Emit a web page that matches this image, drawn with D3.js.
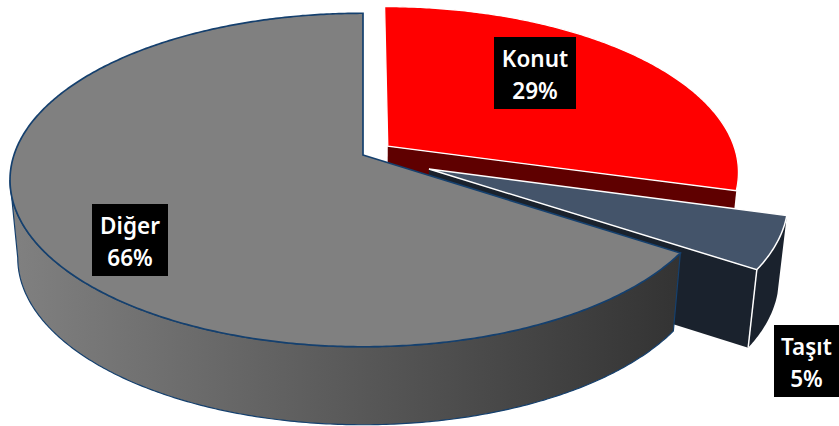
<!DOCTYPE html>
<html>
<head>
<meta charset="utf-8">
<script src="https://cdn.jsdelivr.net/npm/d3@7"></script>
<style>
html, body { margin: 0; padding: 0; background: #fff; overflow: hidden; }
svg { display: block; }
text { font-family: "Noto Sans", "Open Sans", sans-serif; font-size: 22.5px; font-weight: 600; fill: #fff; }
</style>
</head>
<body>
<div id="container"></div>
<script>
// values
var categories = ["Konut", "Taşıt", "Diğer"];
var shares = [29.3, 5.0, 65.7];

var colTop = ["#ff0000", "#44546a", "#808080"];
var colEdge = ["#ffffff", "#ffffff", "#15406e"];
var colFace = ["#5f0000", "#1a222d", "#333333"];
var explode = [0.09, 0.205, 0];
var labelBox = [[494, 37, 82], [774, 325, 65], [92, 204, 76]];

var width = 839, height = 426;
var cx = 363, cy = 155, rx = 349, ry = 163, persp = 0.15;
var depth = 78, shrink = 0.978;
var silhouette = Math.PI + Math.acos(persp);  // left tangent of the ellipse

var svg = d3.select("#container").append("svg")
            .attr("width", width).attr("height", height);

var grad = svg.append("defs").append("linearGradient")
              .attr("id", "wall").attr("gradientUnits", "userSpaceOnUse")
              .attr("x1", 15).attr("x2", 680).attr("y1", 0).attr("y2", 0);
grad.append("stop").attr("offset", 0).attr("stop-color", "#808080");
grad.append("stop").attr("offset", 1).attr("stop-color", "#333333");

var slices = d3.pie().sort(null).value(function(d){return d;})(shares);

var line = d3.line();

// ground plane to screen, u to the right, v towards the viewer
function project(u, v, low){
    var w = 1 - persp * v;
    var x = cx + rx * u / w, y = cy + ry * v / w;
    if(low){
        x = cx + (x - cx) * shrink;
        y = y + depth;
    }
    return [x, y];
}

function offset(d){
    var mid = (d.startAngle + d.endAngle) / 2, e = explode[d.index];
    return [e * Math.sin(mid), -e * Math.cos(mid)];
}

function rim(d, a, low){
    var o = offset(d);
    return project(o[0] + Math.sin(a), o[1] - Math.cos(a), low);
}

function apex(d, low){
    var o = offset(d);
    return project(o[0], o[1], low);
}

function arcPoints(d, a0, a1, low){
    var n = Math.ceil(Math.abs(a1 - a0) / 0.01);
    return d3.range(n + 1).map(function(i){
        return rim(d, a0 + (a1 - a0) * i / n, low);
    });
}

function topPath(d){
    return line([apex(d)].concat(arcPoints(d, d.startAngle, d.endAngle))) + "Z";
}

function wallPath(d, a0, a1){
    return line(arcPoints(d, a0, a1).concat(arcPoints(d, a1, a0, true))) + "Z";
}

function facePath(d, a){
    return line([apex(d), rim(d, a), rim(d, a, true), apex(d, true)]) + "Z";
}

var konut = slices[0], tasit = slices[1], diger = slices[2];

// back to front: Konut, Tasit, Diger
svg.append("path").attr("d", facePath(konut, konut.endAngle))
   .attr("fill", colFace[0]);
svg.append("path").attr("d", topPath(konut))
   .attr("fill", colTop[0]).attr("stroke", colEdge[0]).attr("stroke-width", 1.3);

svg.append("path").attr("d", wallPath(tasit, tasit.startAngle, tasit.endAngle))
   .attr("fill", colFace[1]);
svg.append("path").attr("d", facePath(tasit, tasit.endAngle))
   .attr("fill", colFace[1]);
svg.append("path").attr("d", line([rim(tasit, tasit.endAngle), rim(tasit, tasit.endAngle, true)]))
   .attr("fill", "none").attr("stroke", colEdge[1]).attr("stroke-width", 1.5);
svg.append("path").attr("d", topPath(tasit))
   .attr("fill", colTop[1]).attr("stroke", colEdge[1]).attr("stroke-width", 1.5);

svg.append("path").attr("d", wallPath(diger, diger.startAngle, silhouette))
   .attr("fill", "url(#wall)").attr("stroke", colEdge[2]).attr("stroke-width", 1.2);
svg.append("path").attr("d", topPath(diger))
   .attr("fill", colTop[2]).attr("stroke", colEdge[2]).attr("stroke-width", 1.7);

// labels
var labels = svg.append("g").selectAll("g").data(slices).enter().append("g")
    .attr("transform", function(d){
        var b = labelBox[d.index];
        return "translate(" + b[0] + "," + b[1] + ")";
    });
labels.append("rect")
    .attr("width", function(d){return labelBox[d.index][2];})
    .attr("height", 72).attr("fill", "#000");
labels.append("text")
    .attr("x", function(d){return labelBox[d.index][2] / 2;})
    .attr("y", 30).attr("text-anchor", "middle")
    .text(function(d){return categories[d.index];});
labels.append("text")
    .attr("x", function(d){return labelBox[d.index][2] / 2;})
    .attr("y", 62).attr("text-anchor", "middle")
    .text(function(d){return Math.round(d.value) + "%";});
</script>
</body>
</html>
